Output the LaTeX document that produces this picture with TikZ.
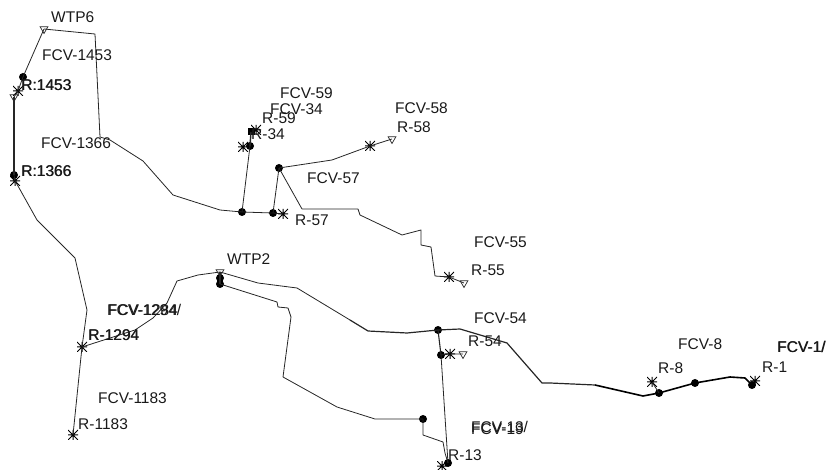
\documentclass[tikz,border=0pt]{standalone}
\usepackage{fontspec}
\setmainfont{Liberation Sans}
\usetikzlibrary{shapes.geometric}
\tikzset{
  x=1pt,y=-1pt,
  pipe/.style={draw=black!85,line width=0.8pt,line join=round},
  heavy/.style={draw=black,line width=1.6pt,line join=round},
  dot/.style={circle,fill=black,inner sep=0pt,minimum size=8pt},
  tank/.style={regular polygon,regular polygon sides=3,shape border rotate=180,draw=black!85,line width=0.7pt,inner sep=0pt,minimum size=9pt},
  valve/.style={inner sep=0pt,minimum size=10pt,path picture={
    \draw[black,line width=1pt]
      (path picture bounding box.south west)--(path picture bounding box.north east)
      (path picture bounding box.north west)--(path picture bounding box.south east)
      (path picture bounding box.north)--(path picture bounding box.south)
      (path picture bounding box.west)--(path picture bounding box.east);}},
  lab/.style={anchor=west,inner sep=0pt,font=\fontsize{15.5}{15.5}\selectfont,text=black!90},
}
\begin{document}
\begin{tikzpicture}
\useasboundingbox (0,0) rectangle (828,470);
% nodes
\node[tank] (wtp6) at (44,29) {};
\node[dot] (d1453) at (23,77) {};
\node[valve] (v1453) at (18,91) {};
\node[tank] (t1453) at (14,97) {};
\node[dot] (d1366) at (14,175) {};
\node[valve] (v1366) at (15,181) {};
\node[valve] (v1294) at (82,347) {};
\node[valve] (v1183) at (73,435) {};
\node[dot] (a) at (242,212) {};
\node[dot] (b) at (273,213) {};
\node[valve] (v57) at (283,214) {};
\node[dot] (c) at (250,146) {};
\node[valve] (v59) at (243,147) {};
\node[rectangle,fill=black,inner sep=0pt,minimum size=7pt] (e) at (251,132) {};
\node[valve] (v34) at (256,130) {};
\node[dot] (f) at (279,168) {};
\node[valve] (v58) at (370,146) {};
\node[tank] (t58) at (392,139) {};
\node[valve] (v55) at (449,277) {};
\node[tank] (t55) at (464,283) {};
\node[tank] (wtp2) at (220,272) {};
\node[dot] (g) at (220,278) {};
\node[dot] (g2) at (220,284) {};
\node[dot] (h) at (438,330) {};
\node[dot] (i) at (441,355) {};
\node[valve] (v54) at (450,354) {};
\node[tank] (t54) at (463,354) {};
\node[dot] (k) at (423,419) {};
\node[dot] (m) at (448,463) {};
\node[valve] (v13) at (442,466) {};
\node[dot] (n) at (659,393) {};
\node[valve] (v8) at (652,382) {};
\node[dot] (o) at (695,383) {};
\node[dot] (p) at (752,385) {};
\node[valve] (v1) at (755,381) {};
% connectors
\draw[pipe] (wtp6.center) -- (d1453.center);
\draw[pipe] (d1453.center) -- (v1453.center) -- (t1453.center);
\draw[pipe,line width=1.1pt] (t1453.center) -- (d1366.center);
\draw[pipe] (d1366.center) -- (v1366.center) -- (18,186) -- (37,220) -- (75,258) -- (87,310) -- (v1294.center);
\draw[pipe] (v1294.center) -- (v1183.center);
\draw[pipe] (wtp6.center) -- (95,34) -- (100,137) -- (110,140) -- (143,161) -- (173,195) -- (220,210) -- (a.center);
\draw[pipe] (a.center) -- (b.center) -- (v57.center);
\draw[pipe] (a.center) -- (c.center);
\draw[pipe,line width=1.4pt] (c.center) -- (e.center);
\draw[pipe] (b.center) -- (f.center);
\draw[pipe] (f.center) -- (332,160) -- (v58.center) -- (t58.center);
\draw[pipe] (f.center) -- (302,209) -- (358,209) -- (360,215) -- (402,235) -- (421,230) -- (421,245) -- (431,247) -- (435,276) -- (v55.center) -- (t55.center);
\draw[pipe] (wtp2.center) -- (198,275) -- (177,281) -- (167,303) -- (153,318) -- (135,330) -- (v1294.center);
\draw[pipe] (wtp2.center) -- (258,283) -- (297,288) -- (350,320);
\draw[pipe,line width=1.2pt] (350,320) -- (368,331) -- (407,333) -- (h.center);
\draw[pipe,line width=1.2pt] (h.center) -- (460,329) -- (507,343) -- (542,383) -- (550,383) -- (595,385);
\draw[heavy] (595,385) -- (643,396) -- (n.center);
\draw[heavy] (n.center) -- (o.center);
\draw[heavy] (o.center) -- (730,377) -- (745,378) -- (p.center);
\draw[pipe] (v8.center) -- (n.center);
\draw[pipe,line width=1.5pt] (wtp2.center) -- (g2.center);
\draw[pipe] (g2.center) -- (277,302) -- (278,307) -- (288,308) -- (291,317) -- (283,377) -- (337,407) -- (375,419) -- (k.center);
\draw[pipe] (k.center) -- (423,435) -- (443,442) -- (445,453) -- (m.center);
\draw[pipe,line width=1.1pt] (h.center) -- (i.center);
\draw[pipe] (i.center) -- (m.center);
\draw[pipe] (i.center) -- (v54.center) -- (t54.center);
% labels
\node[lab] (lwtp6) at (51,17) {WTP6};
\node[lab] (l1453) at (42,55) {FCV-1453};
\node[lab] (r1453) at (21,85) {R:1453};
\node[lab] (r1453b) at (21.5,85) {R:1453};
\node[lab] (l1366) at (41,143) {FCV-1366};
\node[lab] (r1366) at (21,171) {R:1366};
\node[lab] (r1366b) at (21.5,171) {R:1366};
\node[lab] (l59) at (280,93) {FCV-59};
\node[lab] (l34) at (270,109) {FCV-34};
\node[lab] (r59) at (262,118) {R-59};
\node[lab] (r34) at (251,134) {R-34};
\node[lab] (l58) at (395,108) {FCV-58};
\node[lab] (r58) at (397,127) {R-58};
\node[lab] (l57) at (307,178) {FCV-57};
\node[lab] (r57) at (295,220) {R-57};
\node[lab] (l55) at (474,242) {FCV-55};
\node[lab] (r55) at (471,270) {R-55};
\node[lab] (lwtp2) at (227,259) {WTP2};
\node[lab] (l1294) at (107,310) {FCV-1294/};
\node[lab] (l1284) at (108,310) {FCV-1284};
\node[lab] (r1294) at (88,335) {R-1294};
\node[lab] (r1294b) at (88.5,335) {R-1294};
\node[lab] (l1183) at (98,398) {FCV-1183};
\node[lab] (r1183) at (78,424) {R-1183};
\node[lab] (l54) at (474,318) {FCV-54};
\node[lab] (r54) at (468,341) {R-54};
\node[lab] (l13) at (471,427) {FCV-13/};
\node[lab] (l19) at (471,429) {FCV-19};
\node[lab] (r13) at (448,455) {R-13};
\node[lab] (l8) at (678,344) {FCV-8};
\node[lab] (r8) at (658,368) {R-8};
\node[lab] (l1) at (777,347) {FCV-1/};
\node[lab] (l1b) at (777.5,347) {FCV-1/};
\node[lab] (r1) at (762,367) {R-1};
\end{tikzpicture}
\end{document}
